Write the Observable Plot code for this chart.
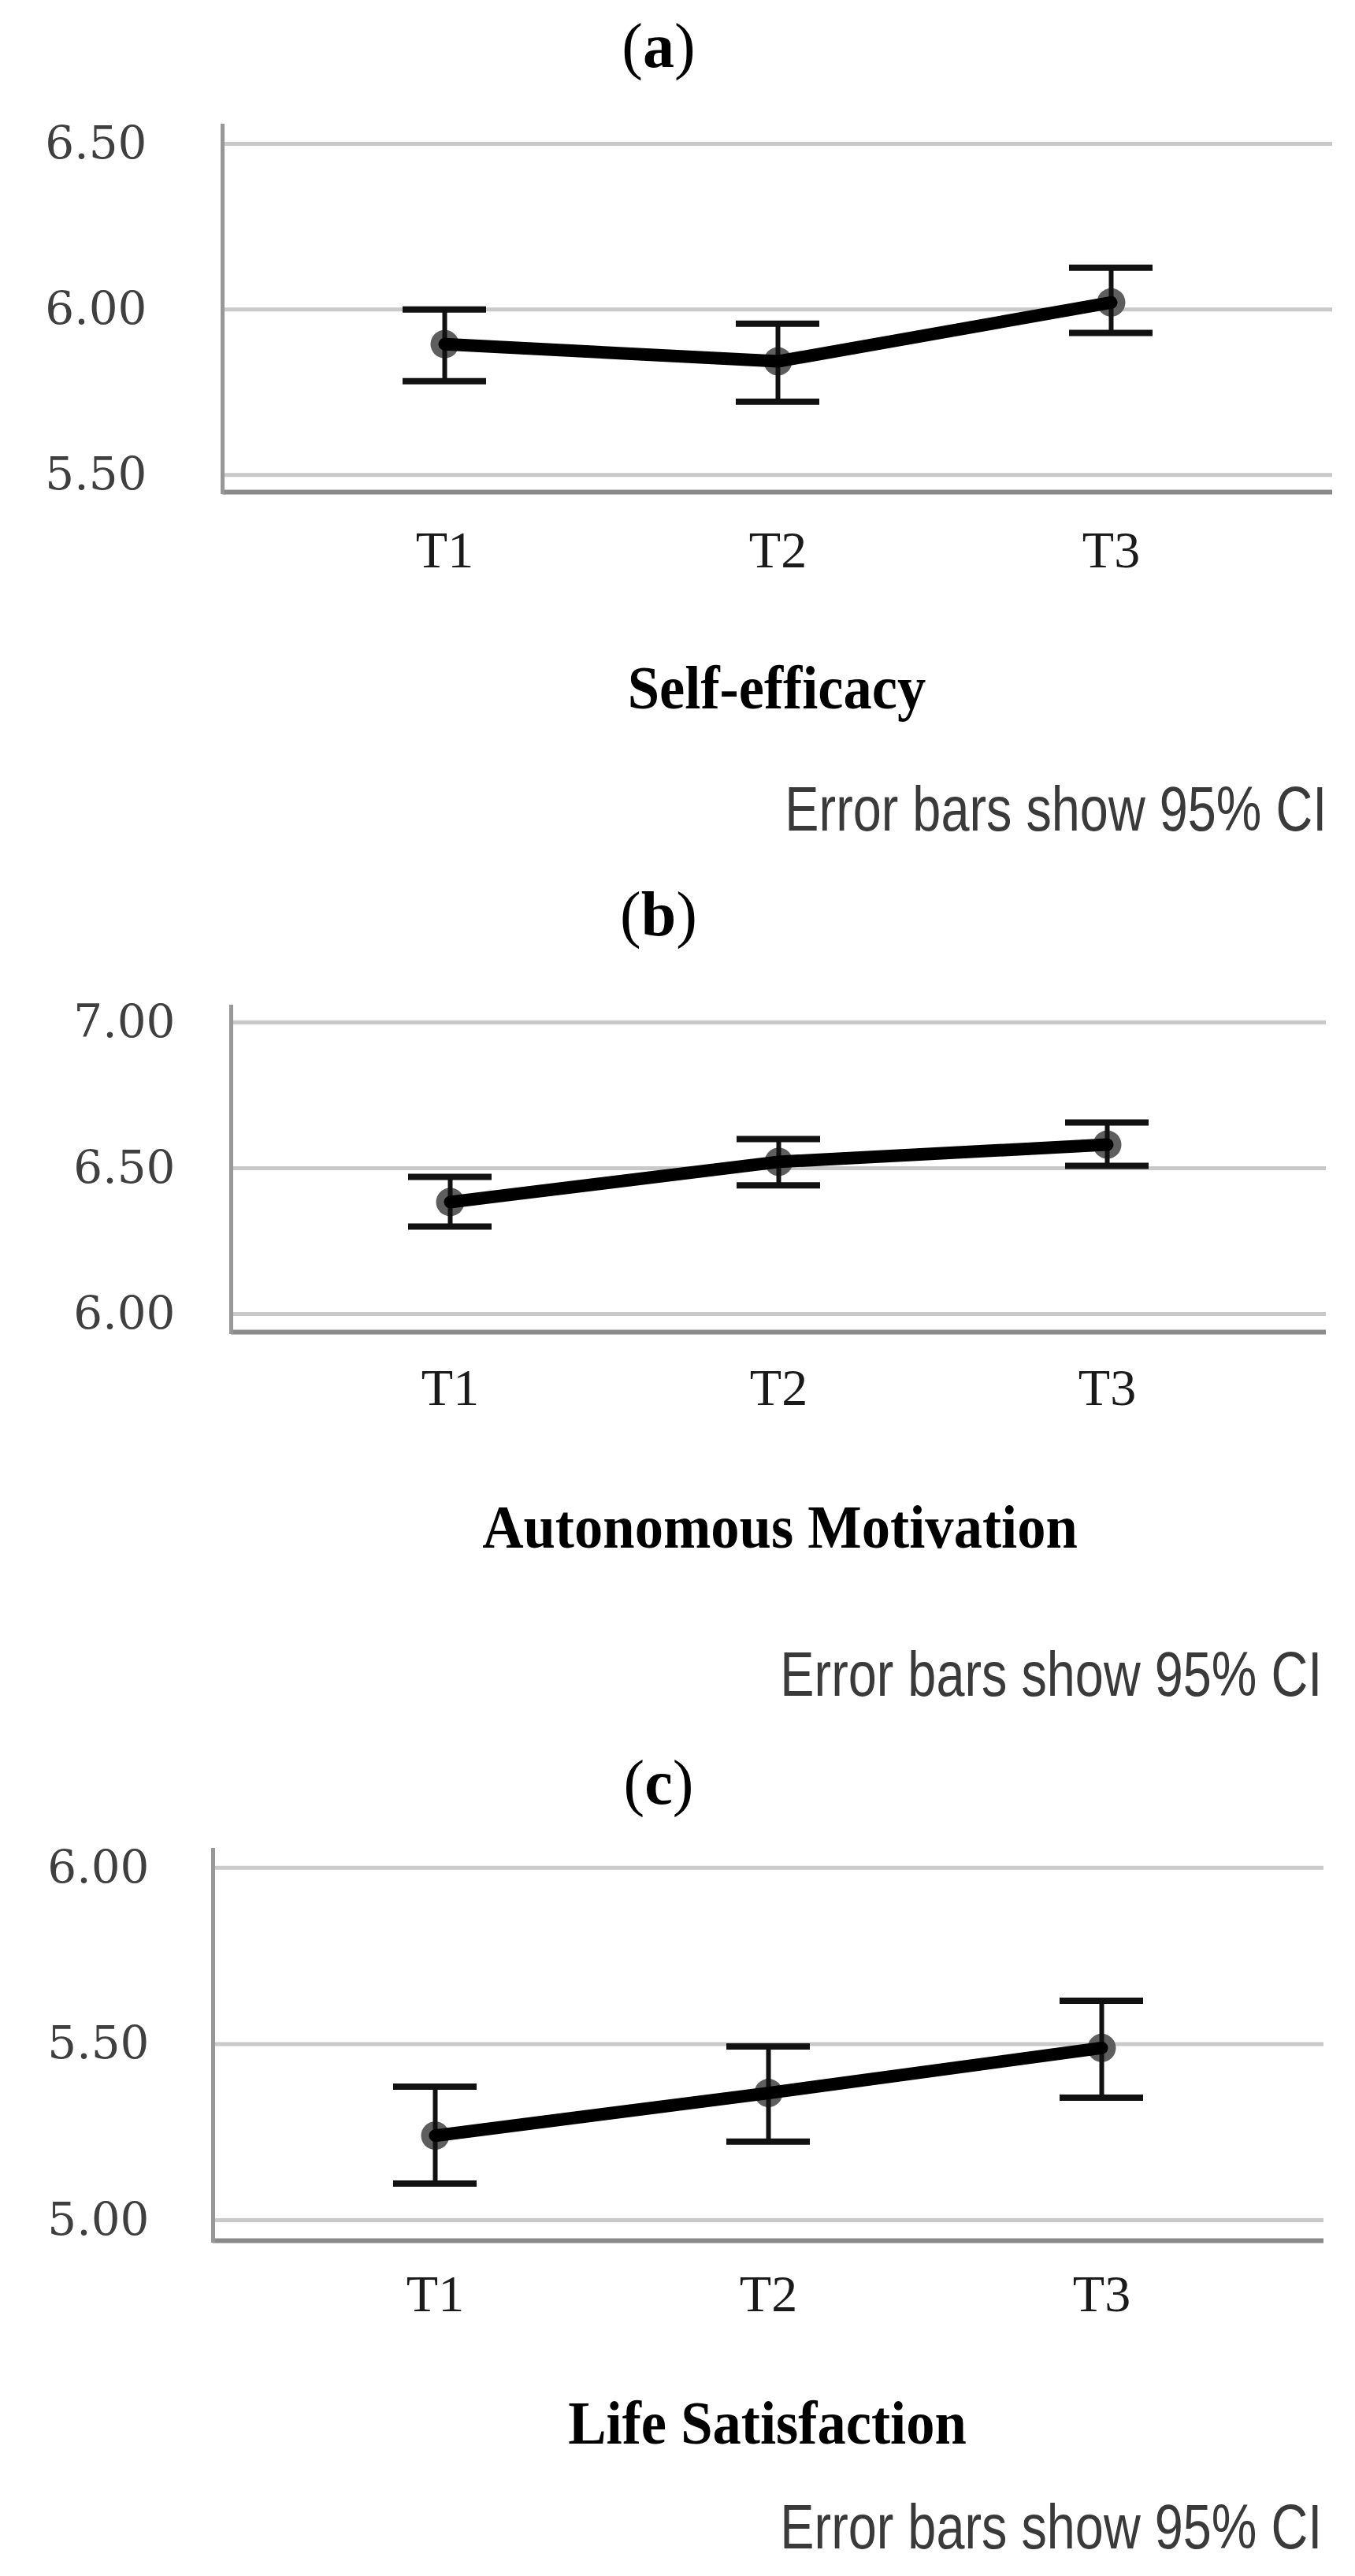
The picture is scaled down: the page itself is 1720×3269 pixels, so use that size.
<!DOCTYPE html>
<html>
<head>
<meta charset="utf-8">
<script src="https://cdn.jsdelivr.net/npm/d3@7"></script>
<script src="https://cdn.jsdelivr.net/npm/@observablehq/plot@0.6"></script>
<style>
  html, body { margin: 0; padding: 0; background: #fff; }
  #page { position: relative; width: 1720px; height: 3269px; overflow: hidden; background: #fff; }
  .abs { position: absolute; white-space: nowrap; }
  .letter { font-family: "Liberation Serif", "Times New Roman", serif; font-size: 80px; line-height: 1; width: 600px; text-align: center; color: #000; }
  .axtitle { font-family: "Liberation Serif", "Times New Roman", serif; font-weight: bold; font-size: 78px; line-height: 1; width: 1200px; text-align: center; transform: scaleX(0.93); color: #000; }
  .caption { font-family: "Liberation Sans", Arial, sans-serif; font-size: 80px; line-height: 1; transform: scaleX(0.81); transform-origin: right center; color: #3a3a3a; }
</style>
</head>
<body>
<div id="page"></div>
<script>
// ---------------- data ----------------
const timepoints = ["T1", "T2", "T3"];

const panelLetters = ["a", "b", "c"];
const panelTitles = ["Self-efficacy", "Autonomous Motivation", "Life Satisfaction"];
const captionText = "Error bars show 95% CI";

const selfEfficacyMean = [5.895, 5.843, 6.021];
const selfEfficacyLow  = [5.783, 5.721, 5.929];
const selfEfficacyHigh = [6.000, 5.957, 6.126];
const selfEfficacyTicks = [5.5, 6.0, 6.5];
const selfEfficacyDomain = [5.448, 6.555];

const autonomousMean = [6.384, 6.522, 6.581];
const autonomousLow  = [6.300, 6.441, 6.508];
const autonomousHigh = [6.470, 6.600, 6.657];
const autonomousTicks = [6.0, 6.5, 7.0];
const autonomousDomain = [5.938, 7.054];

const lifeSatMean = [5.240, 5.361, 5.489];
const lifeSatLow  = [5.104, 5.223, 5.348];
const lifeSatHigh = [5.379, 5.493, 5.623];
const lifeSatTicks = [5.0, 5.5, 6.0];
const lifeSatDomain = [4.942, 6.051];

// ---------------- layout (not data) ----------------
const layouts = [
  {svgTop: 120,  height: 640, mt: 39, mb: 136, ml: 282, mr: 29, yPad: 96, xPad: 49,
   letterTop: 18,   titleX: 986, titleTop: 834,  capTop: 987,  capRight: 36},
  {svgTop: 1240, height: 590, mt: 37, mb: 140, ml: 293, mr: 37, yPad: 71, xPad: 46,
   letterTop: 1120, titleX: 990, titleTop: 1899, capTop: 2085, capRight: 42},
  {svgTop: 2310, height: 670, mt: 37, mb: 137, ml: 270, mr: 40, yPad: 81, xPad: 43,
   letterTop: 2222, titleX: 974, titleTop: 3036, capTop: 3167, capRight: 42}
];

const series = [
  {mean: selfEfficacyMean, low: selfEfficacyLow, high: selfEfficacyHigh, ticks: selfEfficacyTicks, domain: selfEfficacyDomain},
  {mean: autonomousMean, low: autonomousLow, high: autonomousHigh, ticks: autonomousTicks, domain: autonomousDomain},
  {mean: lifeSatMean, low: lifeSatLow, high: lifeSatHigh, ticks: lifeSatTicks, domain: lifeSatDomain}
];

const page = document.getElementById("page");

series.forEach((s, i) => {
  const L = layouts[i];
  const rows = timepoints.map((t, j) => ({t, mean: s.mean[j], low: s.low[j], high: s.high[j]}));

  const letter = document.createElement("div");
  letter.className = "abs letter";
  letter.style.top = L.letterTop + "px";
  letter.style.left = (836 - 300) + "px";
  letter.innerHTML = "(<b>" + panelLetters[i] + "</b>)";
  page.appendChild(letter);

  const chart = Plot.plot({
    width: 1720,
    height: L.height,
    marginTop: L.mt,
    marginBottom: L.mb,
    marginLeft: L.ml,
    marginRight: L.mr,
    style: {background: "transparent", overflow: "visible"},
    x: {type: "point", domain: timepoints, padding: 0.665},
    y: {domain: s.domain},
    marks: [
      Plot.ruleY(s.ticks, {stroke: "#c9c9c9", strokeWidth: 5}),
      Plot.ruleY([s.domain[0]], {stroke: "#8a8a8a", strokeWidth: 6}),
      Plot.frame({anchor: "left", stroke: "#979797", strokeWidth: 5}),
      Plot.axisY({ticks: s.ticks, tickFormat: d3.format(".2f"), tickSize: 0, tickPadding: L.yPad,
        fontFamily: "DejaVu Serif", fontSize: 58, color: "#3f3f3f", label: null}),
      Plot.axisX({tickSize: 0, tickPadding: L.xPad, fontFamily: "Liberation Serif", fontSize: 66,
        color: "#1a1a1a", label: null}),
      Plot.dot(rows, {x: "t", y: "mean", r: 18, fill: "#5e5e5e", stroke: "none"}),
      Plot.ruleX(rows, {x: "t", y1: "low", y2: "high", stroke: "#111", strokeWidth: 6}),
      Plot.ruleY(rows, {x1: "t", x2: "t", y: "high", insetLeft: -53, insetRight: -53, stroke: "#111", strokeWidth: 8}),
      Plot.ruleY(rows, {x1: "t", x2: "t", y: "low", insetLeft: -53, insetRight: -53, stroke: "#111", strokeWidth: 8}),
      Plot.line(rows, {x: "t", y: "mean", stroke: "#000", strokeWidth: 16, strokeLinejoin: "round"})
    ]
  });
  chart.style.position = "absolute";
  chart.style.left = "0px";
  chart.style.top = L.svgTop + "px";
  page.appendChild(chart);

  const title = document.createElement("div");
  title.className = "abs axtitle";
  title.style.top = L.titleTop + "px";
  title.style.left = (L.titleX - 600) + "px";
  title.textContent = panelTitles[i];
  page.appendChild(title);

  const cap = document.createElement("div");
  cap.className = "abs caption";
  cap.style.top = L.capTop + "px";
  cap.style.right = L.capRight + "px";
  cap.textContent = captionText;
  page.appendChild(cap);
});
</script>
</body>
</html>
